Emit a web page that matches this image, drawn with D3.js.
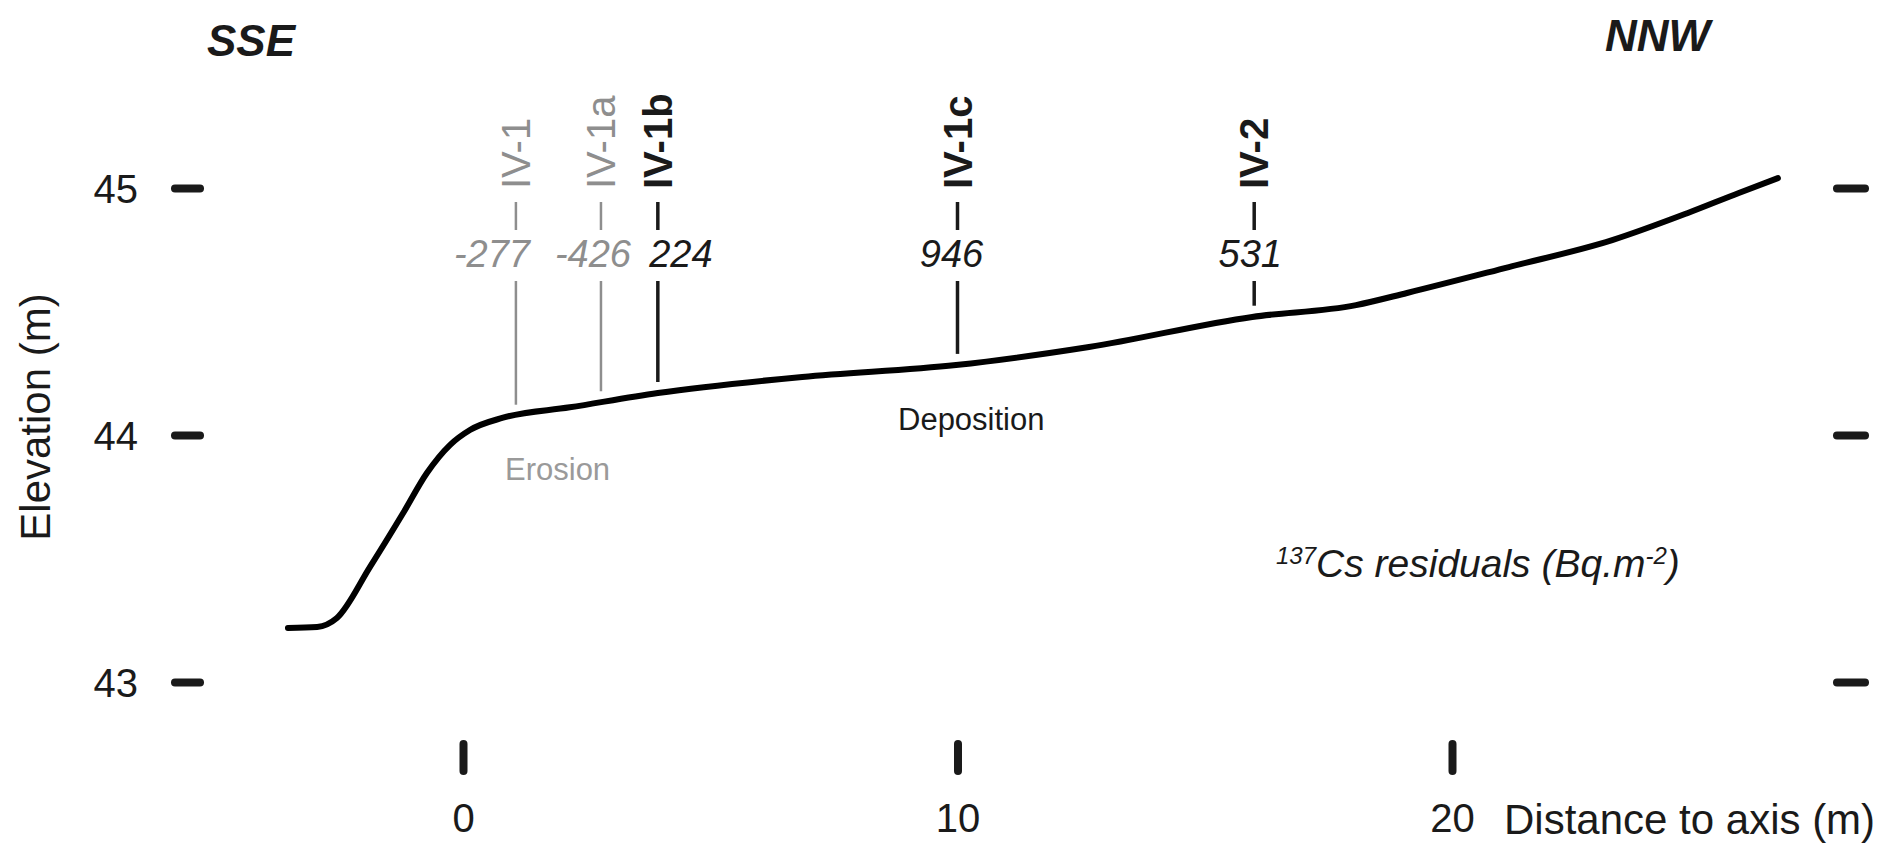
<!DOCTYPE html>
<html>
<head>
<meta charset="utf-8">
<script src="https://cdn.jsdelivr.net/npm/d3@7"></script>
<style>
  html, body { margin: 0; padding: 0; background: #ffffff; }
  svg { display: block; font-family: "Liberation Sans", Arial, Helvetica, sans-serif; }
</style>
</head>
<body>
<svg id="chart" width="1902" height="846"></svg>
<script>
// ---------- data ----------
const profileDistance = [-3.54, -2.95, -2.55, -1.88, -1.21, -0.73, -0.26, 0.14, 0.81, 2.16, 3.94, 6.86, 9.97, 12.66, 15.96, 18.06, 19.09, 21.15, 23.24, 24.77, 25.80, 26.59];
const profileElevation = [43.219, 43.223, 43.259, 43.466, 43.684, 43.846, 43.960, 44.020, 44.070, 44.112, 44.170, 44.235, 44.283, 44.356, 44.478, 44.526, 44.575, 44.680, 44.789, 44.899, 44.980, 45.040];

const sampleNames = ["IV-1", "IV-1a", "IV-1b", "IV-1c", "IV-2"];
const sampleDistance = [1.07, 2.79, 3.94, 10, 16];
const sampleResiduals = [-277, -426, 224, 946, 531];
const sampleGroup = ["erosion", "erosion", "deposition", "deposition", "deposition"];

const yTicks = [43, 44, 45];
const xTicks = [0, 10, 20];

// ---------- layout ----------
const svg = d3.select("#chart");
const x = d3.scaleLinear().domain([0, 20]).range([463, 1452]);
const y = d3.scaleLinear().domain([43, 45]).range([682, 188]);

const ink = "#1a1a1a";
const grey = "#8e8e8e";
const fontMain = 40;

// left axis
const gLeft = svg.append("g").attr("transform", "translate(203,0)")
  .call(d3.axisLeft(y).tickValues(yTicks).tickSize(30).tickPadding(35).tickFormat(d3.format("d")));
gLeft.select(".domain").remove();
gLeft.selectAll(".tick line").attr("stroke", ink).attr("stroke-width", 8).attr("stroke-linecap", "round").attr("x2", -28).attr("x1", -3);
gLeft.selectAll(".tick text").attr("font-size", fontMain).attr("fill", ink).attr("font-family", "Liberation Sans, Arial, sans-serif").attr("dy", "0.35em");

// right axis (ticks only)
const gRight = svg.append("g").attr("transform", "translate(1834,0)")
  .call(d3.axisRight(y).tickValues(yTicks).tickSize(34).tickFormat(""));
gRight.select(".domain").remove();
gRight.selectAll(".tick line").attr("stroke", ink).attr("stroke-width", 8).attr("stroke-linecap", "round").attr("x1", 3).attr("x2", 31);

// bottom axis
const gBottom = svg.append("g").attr("transform", "translate(0,740)")
  .call(d3.axisBottom(x).tickValues(xTicks).tickSize(34).tickPadding(30).tickFormat(d3.format("d")));
gBottom.select(".domain").remove();
gBottom.selectAll(".tick line").attr("stroke", ink).attr("stroke-width", 8).attr("stroke-linecap", "round").attr("y1", 4).attr("y2", 31);
gBottom.selectAll(".tick text").attr("font-size", fontMain).attr("fill", ink).attr("font-family", "Liberation Sans, Arial, sans-serif");

// axis titles
svg.append("text").attr("x", 1504).attr("y", 834).attr("font-size", 42).attr("fill", ink)
  .text("Distance to axis (m)");
svg.append("text").attr("transform", "translate(50,417) rotate(-90)").attr("text-anchor", "middle")
  .attr("font-size", 42).attr("fill", ink).text("Elevation (m)");

// orientation labels
svg.append("text").attr("x", 207).attr("y", 56).attr("font-size", 44).attr("font-weight", "bold").attr("font-style", "italic").attr("fill", ink).text("SSE");
svg.append("text").attr("x", 1605).attr("y", 51).attr("font-size", 44).attr("font-weight", "bold").attr("font-style", "italic").attr("fill", ink).text("NNW");

// profile line
const profile = profileDistance.map((d, i) => [d, profileElevation[i]]);
const line = d3.line().x(d => x(d[0])).y(d => y(d[1])).curve(d3.curveMonotoneX);
svg.append("path").datum(profile).attr("d", line).attr("fill", "none")
  .attr("stroke", "#000").attr("stroke-width", 6).attr("stroke-linecap", "round").attr("stroke-linejoin", "round");

// interpolate elevation at sample distances
const elevAt = d => {
  const i = d3.bisectLeft(profileDistance, d);
  const x0 = profileDistance[i - 1], x1 = profileDistance[i];
  const y0 = profileElevation[i - 1], y1 = profileElevation[i];
  return y0 + (y1 - y0) * (d - x0) / (x1 - x0);
};

// sample markers
const numberDx = [-24, -8, 23, -6, -4];
const samples = sampleNames.map((n, i) => ({ name: n, d: sampleDistance[i], r: sampleResiduals[i], g: sampleGroup[i], dx: numberDx[i] }));
const gs = svg.append("g").selectAll("g").data(samples).join("g")
  .attr("transform", d => `translate(${x(d.d)},0)`);

gs.append("text")
  .attr("transform", "translate(14,189) rotate(-90)")
  .attr("font-size", 40)
  .attr("font-weight", d => d.g === "erosion" ? "normal" : "bold")
  .attr("fill", d => d.g === "erosion" ? grey : ink)
  .text(d => d.name);

gs.append("line").attr("x1", 0).attr("x2", 0).attr("y1", 202).attr("y2", 230)
  .attr("stroke", d => d.g === "erosion" ? grey : ink)
  .attr("stroke-width", d => d.g === "erosion" ? 2.5 : 3.5);

gs.append("text").attr("x", d => d.dx).attr("y", 267).attr("text-anchor", "middle")
  .attr("font-size", 38).attr("font-style", "italic")
  .attr("fill", d => d.g === "erosion" ? grey : ink)
  .text(d => d.r);

gs.append("line").attr("x1", 0).attr("x2", 0).attr("y1", 281)
  .attr("y2", d => y(elevAt(d.d)) - 11)
  .attr("stroke", d => d.g === "erosion" ? grey : ink)
  .attr("stroke-width", d => d.g === "erosion" ? 2.5 : 3.5);

// process labels
svg.append("text").attr("x", 505).attr("y", 480).attr("font-size", 31).attr("fill", "#9a9a9a").text("Erosion");
svg.append("text").attr("x", 898).attr("y", 430).attr("font-size", 31).attr("fill", ink).text("Deposition");

// residual caption
const cap = svg.append("text").attr("x", 1276).attr("y", 577).attr("font-size", 39).attr("font-style", "italic").attr("fill", ink);
cap.append("tspan").attr("font-size", 24).attr("dy", -13).text("137");
cap.append("tspan").attr("dy", 13).text("Cs residuals (Bq.m");
cap.append("tspan").attr("font-size", 24).attr("dy", -13).text("-2");
cap.append("tspan").attr("dy", 13).text(")");
</script>
</body>
</html>
